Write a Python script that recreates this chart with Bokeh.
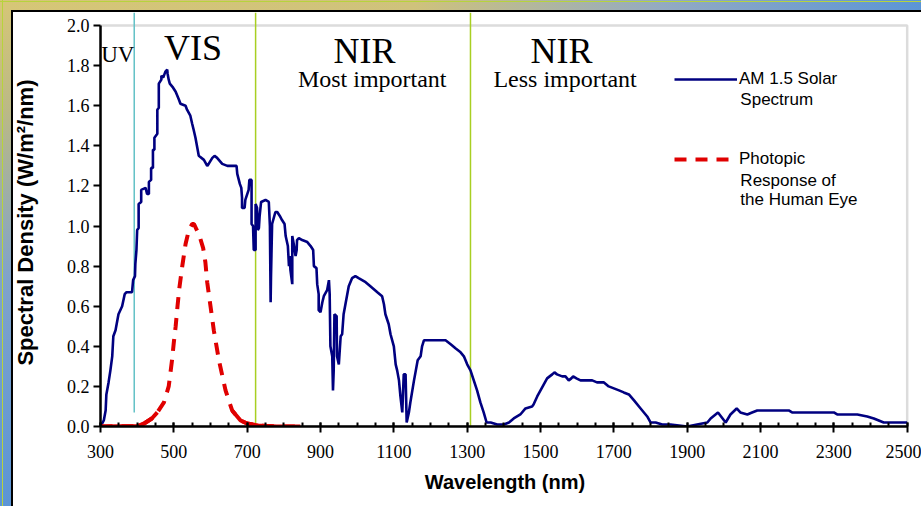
from bokeh.plotting import figure
from bokeh.models import (Range1d, FixedTicker, PrintfTickFormatter, Label, Legend,
                          LegendItem, BoxAnnotation, InlineStyleSheet)
from bokeh.embed import file_html
from bokeh.resources import INLINE

# ---------------- data ----------------
am15_wl = [
    300, 309, 314, 316, 322, 327, 332, 335, 341, 349,
    359, 366, 371, 386, 389, 394, 395, 398, 400, 404,
    404, 411, 411, 423, 427, 432, 432, 438, 438, 443,
    443, 447, 447, 455, 455, 459, 459, 466, 466, 471,
    477, 482, 483, 486, 489, 498, 505, 514, 518, 532,
    536, 545, 550, 554, 559, 564, 568, 582, 591, 595,
    605, 611, 618, 632, 646, 655, 671, 673, 680, 684,
    686, 686, 693, 695, 704, 706, 712, 712, 716, 718,
    723, 723, 727, 729, 732, 734, 738, 750, 759, 762,
    764, 765, 768, 777, 782, 789, 795, 802, 805, 811,
    814, 816, 818, 823, 823, 827, 832, 835, 836, 841,
    850, 864, 873, 880, 882, 889, 891, 895, 895, 900,
    905, 909, 918, 923, 925, 927, 932, 934, 936, 938,
    944, 945, 950, 955, 959, 963, 968, 973, 977, 986,
    995, 1004, 1023, 1036, 1055, 1068, 1073, 1077, 1086, 1091,
    1100, 1105, 1109, 1114, 1118, 1123, 1127, 1132, 1135, 1141,
    1145, 1155, 1159, 1165, 1173, 1177, 1182, 1241, 1255, 1268,
    1282, 1291, 1300, 1309, 1318, 1327, 1336, 1345, 1353, 1364,
    1382, 1400, 1414, 1427, 1445, 1459, 1477, 1481, 1491, 1500,
    1509, 1518, 1532, 1538, 1545, 1559, 1568, 1577, 1584, 1589,
    1598, 1609, 1641, 1654, 1673, 1686, 1700, 1714, 1727, 1741,
    1755, 1773, 1791, 1800, 1814, 1832, 1855, 1900, 1927, 1955,
    1964, 1984, 2005, 2018, 2035, 2045, 2064, 2077, 2091, 2177,
    2186, 2300, 2309, 2364, 2391, 2409, 2436, 2464, 2500,
]
am15_val = [
    0.00, 0.03, 0.08, 0.16, 0.22, 0.28, 0.35, 0.45, 0.48, 0.56,
    0.60, 0.66, 0.67, 0.67, 0.73, 0.75, 0.81, 0.88, 0.98, 0.99,
    1.11, 1.12, 1.18, 1.19, 1.16, 1.16, 1.22, 1.23, 1.29, 1.29,
    1.38, 1.38, 1.44, 1.46, 1.58, 1.59, 1.71, 1.73, 1.75, 1.74,
    1.77, 1.78, 1.76, 1.73, 1.71, 1.69, 1.67, 1.63, 1.61, 1.60,
    1.58, 1.55, 1.51, 1.48, 1.44, 1.39, 1.35, 1.33, 1.30, 1.31,
    1.34, 1.35, 1.34, 1.31, 1.30, 1.30, 1.30, 1.26, 1.21, 1.19,
    1.14, 1.09, 1.09, 1.13, 1.18, 1.23, 1.23, 1.01, 1.00, 0.88,
    0.88, 1.11, 1.09, 0.98, 0.99, 1.05, 1.12, 1.13, 1.12, 1.00,
    0.62, 0.75, 1.01, 1.07, 1.07, 1.05, 1.03, 1.01, 0.95, 0.90,
    0.80, 0.85, 0.78, 0.71, 0.95, 0.91, 0.85, 0.88, 0.93, 0.94,
    0.93, 0.92, 0.90, 0.88, 0.80, 0.79, 0.71, 0.66, 0.58, 0.57,
    0.62, 0.65, 0.68, 0.73, 0.66, 0.40, 0.35, 0.18, 0.28, 0.56,
    0.55, 0.35, 0.31, 0.45, 0.46, 0.56, 0.61, 0.66, 0.70, 0.74,
    0.75, 0.74, 0.72, 0.70, 0.67, 0.65, 0.61, 0.56, 0.51, 0.46,
    0.40, 0.31, 0.28, 0.23, 0.15, 0.07, 0.26, 0.26, 0.02, 0.07,
    0.12, 0.23, 0.27, 0.33, 0.35, 0.40, 0.43, 0.43, 0.41, 0.39,
    0.37, 0.35, 0.31, 0.28, 0.23, 0.18, 0.12, 0.07, 0.02, 0.02,
    0.01, 0.01, 0.02, 0.04, 0.06, 0.09, 0.10, 0.11, 0.15, 0.18,
    0.21, 0.24, 0.26, 0.27, 0.26, 0.25, 0.25, 0.23, 0.24, 0.25,
    0.24, 0.23, 0.23, 0.22, 0.22, 0.20, 0.19, 0.18, 0.17, 0.16,
    0.13, 0.09, 0.05, 0.02, 0.02, 0.01, 0.01, 0.00, 0.01, 0.02,
    0.04, 0.07, 0.02, 0.06, 0.09, 0.07, 0.06, 0.07, 0.08, 0.08,
    0.07, 0.07, 0.06, 0.06, 0.05, 0.04, 0.02, 0.02, 0.02,
]
photo_wl = [300, 400, 420, 440, 455, 473, 486, 495, 500, 505,
            510, 515, 523, 532, 541, 550, 555, 560, 570, 580,
            586, 591, 600, 609, 623, 641, 659, 682, 700, 730,
            780, 845]
photo_val = [0.0, 0.002, 0.016, 0.04, 0.07, 0.12, 0.20, 0.33, 0.42, 0.50,
             0.60, 0.69, 0.80, 0.91, 0.98, 1.01, 1.01, 0.99, 0.95, 0.89,
             0.82, 0.72, 0.60, 0.48, 0.33, 0.18, 0.08, 0.03, 0.015, 0.005,
             0.0, 0.0]

region_edges = [392, 723, 1309]          # UV|VIS, VIS|NIR, NIR|NIR
region_bottoms = [0.07, 0.015, 0.0]
region_colors = ["#62c1c6", "#a8cf22", "#a8cf22"]

x_ticks = [300, 500, 700, 900, 1100, 1300, 1500, 1700, 1900, 2100, 2300, 2500]
y_ticks = [0.0, 0.2, 0.4, 0.6, 0.8, 1.0, 1.2, 1.4, 1.6, 1.8, 2.0]

series_names = ["AM 1.5 Solar", "Photopic"]

# ---------------- styling constants ----------------
SERIF = "Liberation Serif"
SANS = "Liberation Sans"
X_START, X_END = 300, 2506.3
Y_START, Y_TOP = 0.0, 2.065

CSS = """
:host {
  background:
    linear-gradient(#000, #000) 11px 10px / 2px 100% no-repeat,
    linear-gradient(#000, #000) 11px 10px / 100% 2px no-repeat,
    linear-gradient(#b7d33c, #b7d33c) 2px 0 / 1px 100% no-repeat,
    linear-gradient(#b7d33c, #b7d33c) 0 1px / 100% 1px no-repeat,
    linear-gradient(to right, #d6c677 0%, #cfc27c 45%, #93aac2 72%, #5b95d6 100%) 0 0 / 100% 10px no-repeat,
    linear-gradient(to bottom, #d6c677 0%, #bbb986 22%, #80a3ca 55%, #5b95d6 100%) 0 0 / 11px 100% no-repeat,
    #ffffff;
}
"""

p = figure(width=921, height=506,
           x_range=Range1d(X_START, X_END), y_range=Range1d(Y_START, Y_TOP),
           output_backend="svg", toolbar_location=None,
           min_border_left=100, min_border_right=12,
           min_border_top=12, min_border_bottom=80)
p.stylesheets = [InlineStyleSheet(css=CSS)]
p.border_fill_alpha = 0
p.background_fill_color = "white"
p.outline_line_color = None
p.xgrid.visible = False
p.ygrid.visible = False

# plot-area border (grey top/right)
p.add_layout(BoxAnnotation(left=x_ticks[0], right=x_ticks[-1], bottom=y_ticks[0], top=y_ticks[-1],
                           fill_alpha=0, line_color="#8c8c8c", line_width=2.5,
                           level="underlay"))

# region separators
p.segment(x0=region_edges, y0=region_bottoms, x1=region_edges,
          y1=[Y_TOP] * len(region_edges), line_color=region_colors, line_width=1.5)

# AM 1.5 spectrum
blue = p.line(am15_wl, am15_val, line_color="#000080", line_width=2.6)

# photopic response
red = p.line(photo_wl, photo_val, line_color="#e00000", line_width=4,
             line_dash="12 9")
peak_wl = photo_wl[photo_val.index(max(photo_val))]
left_tail = [(w, v) for w, v in zip(photo_wl, photo_val) if w < peak_wl and v <= 0.08]
right_tail = [(w, v) for w, v in zip(photo_wl, photo_val) if w > peak_wl and v <= 0.08]
for tail in (left_tail, right_tail):
    p.line([t[0] for t in tail], [t[1] for t in tail], line_color="#e00000", line_width=4)

# axes
xa = p.xaxis[0]
xa.ticker = FixedTicker(ticks=x_ticks, minor_ticks=list(range(x_ticks[0], x_ticks[-1] + 1, 50)))
xa.bounds = (x_ticks[0], x_ticks[-1])
xa.axis_line_color = "black"
xa.axis_line_width = 2.5
xa.major_tick_line_color = "black"
xa.major_tick_line_width = 2
xa.major_tick_in = 4
xa.major_tick_out = 6
xa.minor_tick_line_color = "black"
xa.minor_tick_line_width = 2
xa.minor_tick_in = 4
xa.minor_tick_out = 0
xa.major_label_text_font = SERIF
xa.major_label_text_font_size = "18px"
xa.major_label_text_color = "black"
xa.major_label_standoff = 12
xa.axis_label = "Wavelength (nm)"
xa.axis_label_text_font = SANS
xa.axis_label_text_font_size = "20px"
xa.axis_label_text_font_style = "bold"
xa.axis_label_text_color = "black"
xa.axis_label_standoff = 10

ya = p.yaxis[0]
ya.ticker = FixedTicker(ticks=y_ticks, minor_ticks=[])
ya.formatter = PrintfTickFormatter(format="%.1f")
ya.bounds = (y_ticks[0], y_ticks[-1])
ya.axis_line_color = "black"
ya.axis_line_width = 2.5
ya.major_tick_line_color = "black"
ya.major_tick_line_width = 2
ya.major_tick_in = 0
ya.major_tick_out = 7
ya.minor_tick_in = 0
ya.minor_tick_out = 0
ya.major_label_text_font = SERIF
ya.major_label_text_font_size = "18px"
ya.major_label_text_color = "black"
ya.major_label_standoff = 4
ya.axis_label = "Spectral Density  (W/m\u00b2/nm)"
ya.axis_label_text_font = SANS
ya.axis_label_text_font_size = "22px"
ya.axis_label_text_font_style = "bold"
ya.axis_label_text_color = "black"
ya.axis_label_standoff = 26


def add_text(txt, x, y, size, font=SERIF, align="center"):
    p.add_layout(Label(x=x, y=y, text=txt, text_font=font, text_font_size=size,
                       text_align=align, text_baseline="middle", text_color="black"))


add_text("UV", 302, 1.854, "23px", align="left")
add_text("VIS", 552, 1.887, "36px")
add_text("NIR", 1020, 1.875, "36px")
add_text("Most important", 1041, 1.735, "24px")
add_text("NIR", 1557, 1.875, "36px")
add_text("Less important", 1567, 1.735, "24px")

# legend
legend = Legend(items=[LegendItem(label=series_names[0], renderers=[blue]),
                       LegendItem(label=series_names[1], renderers=[red])],
                location=(574, 257), orientation="vertical",
                glyph_width=63, glyph_height=20, label_height=20, label_width=20,
                label_standoff=2, spacing=60, padding=0, margin=0,
                border_line_color=None, background_fill_alpha=0,
                label_text_font=SANS, label_text_font_size="17px",
                label_text_color="black")
p.add_layout(legend)
add_text("Spectrum", 2045, 1.633, "17px", font=SANS, align="left")
add_text("Response of", 2045, 1.229, "17px", font=SANS, align="left")
add_text("the Human Eye", 2045, 1.130, "17px", font=SANS, align="left")

open("out.html", "w").write(file_html(p, INLINE))
